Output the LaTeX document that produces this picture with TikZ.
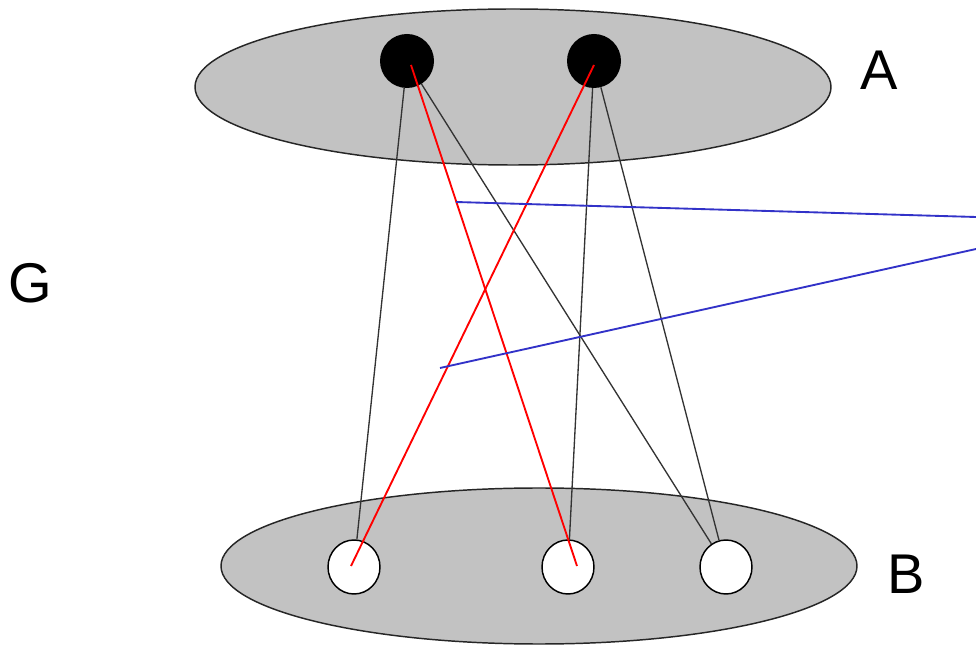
\documentclass[tikz,border=0pt]{standalone}
\usepackage{fontspec}
\setmainfont{Liberation Sans}
\usetikzlibrary{shapes.geometric}
\begin{document}
\begin{tikzpicture}[x=0.75pt,y=-0.75pt,
  region/.style={ellipse, draw=black!85, line width=1.1pt, fill=black!24, inner sep=0pt, minimum width=477pt, minimum height=117pt},
  fullnode/.style={circle, fill=black, inner sep=0pt, minimum size=40.5pt},
  emptynode/.style={ellipse, draw=black, fill=white, line width=1.1pt, inner sep=0pt, minimum width=39pt, minimum height=40.5pt},
  plainedge/.style={draw=black!80, line width=1pt},
  rededge/.style={draw=red, line width=1.4pt},
  blueedge/.style={draw={rgb,255:red,50;green,50;blue,200}, line width=1.4pt},
  lbl/.style={inner sep=0pt, font=\fontsize{42}{50}\selectfont}]
\useasboundingbox (0,0) rectangle (976,645);
\clip (0,0) rectangle (976,645);
\node[region] (RA) at (513,87) {};
\node[region] (RB) at (539,566) {};
\node[fullnode] (A1) at (407,61) {};
\node[fullnode] (A2) at (594,61) {};
\node[emptynode] (B1) at (354,567) {};
\node[emptynode] (B2) at (568,567) {};
\node[emptynode] (B3) at (726,567) {};
\draw[plainedge] (A1) -- (B1);
\draw[plainedge] (A1) -- (B3);
\draw[plainedge] (A2) -- (B2);
\draw[plainedge] (A2) -- (B3);
\draw[rededge] ([shift={(4,4)}]A1.center) -- ([shift={(9,-1)}]B2.center);
\draw[rededge] ([shift={(0,4)}]A2.center) -- ([shift={(-3,-1)}]B1.center);
\coordinate (u1) at (456,202);
\coordinate (u2) at (976,217);
\coordinate (v1) at (440,368);
\coordinate (v2) at (976,249);
\draw[blueedge] (u1) -- (u2);
\draw[blueedge] (v1) -- (v2);
\node[lbl] (la) at (879,70) {A};
\node[lbl] (lb) at (906,574) {B};
\node[lbl] (lg) at (30,283) {G};
\end{tikzpicture}
\end{document}
